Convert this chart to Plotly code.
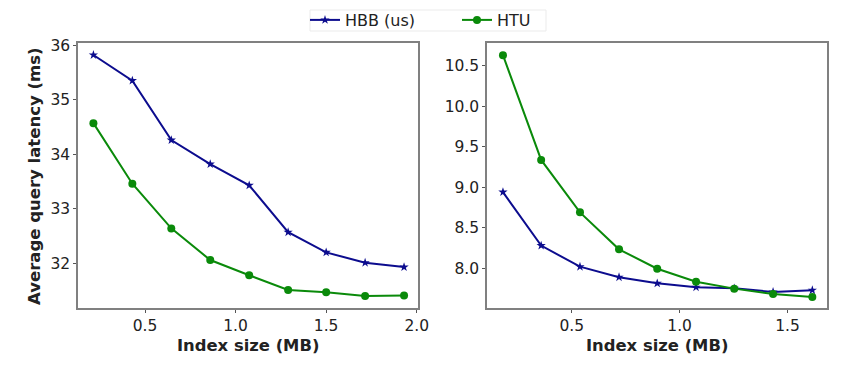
import plotly.graph_objects as go

# Left panel data
left_x = [0.215, 0.43, 0.645, 0.86, 1.075, 1.29, 1.5, 1.715, 1.93]
left_hbb = [35.82, 35.35, 34.26, 33.82, 33.43, 32.57, 32.20, 32.01, 31.93]
left_htu = [34.57, 33.46, 32.64, 32.06, 31.78, 31.51, 31.47, 31.40, 31.41]

# Right panel data
right_x = [0.181, 0.358, 0.538, 0.719, 0.896, 1.076, 1.253, 1.433, 1.615]
right_hbb = [8.94, 8.28, 8.02, 7.89, 7.815, 7.766, 7.753, 7.708, 7.729]
right_htu = [10.63, 9.337, 8.69, 8.234, 7.995, 7.835, 7.749, 7.683, 7.646]

series_names = ["HBB (us)", "HTU"]
x_title = "Index size (MB)"
y_title = "Average query latency (ms)"
left_yticks = [32, 33, 34, 35, 36]
left_xticks = [0.5, 1.0, 1.5, 2.0]
left_xlabels = ["0.5", "1.0", "1.5", "2.0"]
right_yticks = [8.0, 8.5, 9.0, 9.5, 10.0, 10.5]
right_ylabels = ["8.0", "8.5", "9.0", "9.5", "10.0", "10.5"]
right_xticks = [0.5, 1.0, 1.5]
right_xlabels = ["0.5", "1.0", "1.5"]

BLUE = "#0c0c8e"
GREEN = "#0a8a0a"
FONT = "DejaVu Sans"

W, H = 865, 375
OFF = 8  # page body margin offset


def px(x):
    return (x - OFF) / W


def py(y):
    return 1 - (y - OFF) / H


fig = go.Figure()
fig.add_trace(go.Scatter(x=left_x, y=left_hbb, mode="lines+markers", name=series_names[0],
                         line=dict(color=BLUE, width=2), marker=dict(symbol="star", size=7, color=BLUE),
                         xaxis="x", yaxis="y", legend="legend"))
fig.add_trace(go.Scatter(x=left_x, y=left_htu, mode="lines+markers", name=series_names[1],
                         line=dict(color=GREEN, width=2), marker=dict(symbol="circle", size=8, color=GREEN),
                         xaxis="x", yaxis="y", legend="legend2"))
fig.add_trace(go.Scatter(x=right_x, y=right_hbb, mode="lines+markers", name=series_names[0], showlegend=False,
                         line=dict(color=BLUE, width=2), marker=dict(symbol="star", size=7, color=BLUE),
                         xaxis="x2", yaxis="y2"))
fig.add_trace(go.Scatter(x=right_x, y=right_htu, mode="lines+markers", name=series_names[1], showlegend=False,
                         line=dict(color=GREEN, width=2), marker=dict(symbol="circle", size=8, color=GREEN),
                         xaxis="x2", yaxis="y2"))

axis_common = dict(showline=True, linecolor="#808080", linewidth=1.5, mirror=True,
                   ticks="outside", ticklen=3, tickcolor="#555", tickwidth=1,
                   showgrid=False, zeroline=False,
                   tickfont=dict(family=FONT, size=15.5, color="#222"))

legend_common = dict(orientation="h", xanchor="left", y=py(20), yanchor="middle",
                     borderwidth=0, bgcolor="rgba(0,0,0,0)",
                     font=dict(family=FONT, size=16, color="#222"))

ydom = [py(308), py(43)]
fig.update_layout(
    width=W, height=H,
    margin=dict(l=0, r=0, t=0, b=0, pad=0, autoexpand=False),
    paper_bgcolor="white", plot_bgcolor="white",
    font=dict(family=FONT, color="#222"),
    xaxis=dict(domain=[px(78), px(418)], range=[0.13, 2.007], tickvals=left_xticks,
               ticktext=left_xlabels, anchor="y", **axis_common),
    yaxis=dict(domain=ydom, range=[31.18, 36.04], tickvals=left_yticks, anchor="x", **axis_common),
    xaxis2=dict(domain=[px(487), px(827)], range=[0.107, 1.683], tickvals=right_xticks,
                ticktext=right_xlabels, anchor="y2", **axis_common),
    yaxis2=dict(domain=ydom, range=[7.51, 10.78], tickvals=right_yticks,
                ticktext=right_ylabels, anchor="x2", **axis_common),
    legend=dict(x=px(305), **legend_common),
    legend2=dict(x=px(457), **legend_common),
    shapes=[
        dict(type="rect", xref="paper", yref="paper", x0=px(310), x1=px(546), y0=py(31), y1=py(10),
             line=dict(color="#ebebeb", width=1), fillcolor="white", layer="below"),
    ],
    annotations=[
        dict(text="<b>" + x_title + "</b>", x=px(248), y=py(345), xref="paper", yref="paper",
             xanchor="center", yanchor="middle",
             showarrow=False, font=dict(family=FONT, size=16.4, color="#222")),
        dict(text="<b>" + x_title + "</b>", x=px(657), y=py(345), xref="paper", yref="paper",
             xanchor="center", yanchor="middle",
             showarrow=False, font=dict(family=FONT, size=16.4, color="#222")),
        dict(text="<b>" + y_title + "</b>", x=px(35), y=py(176), xref="paper", yref="paper",
             xanchor="center", yanchor="middle",
             textangle=-90, showarrow=False, font=dict(family=FONT, size=16.5, color="#222")),
    ],
)

fig.write_html("out.html")
